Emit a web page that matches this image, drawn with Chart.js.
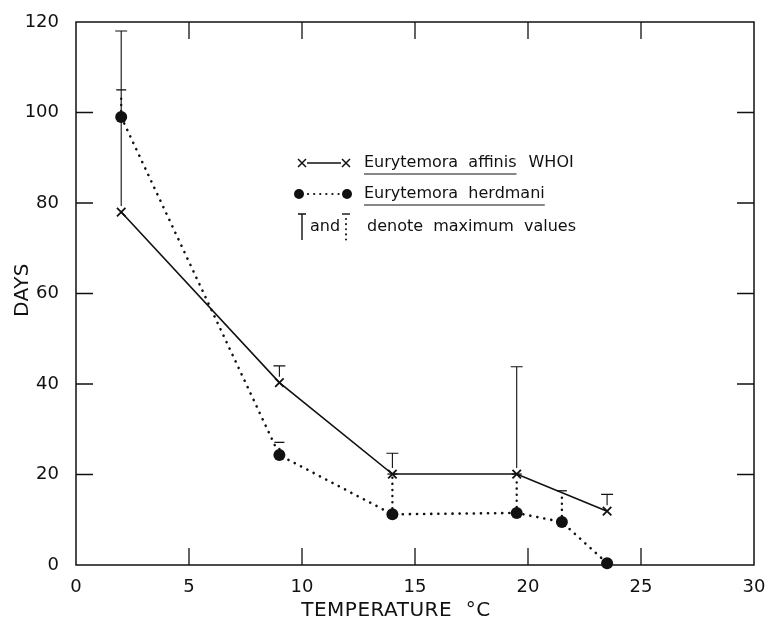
<!DOCTYPE html>
<html>
<head>
<meta charset="utf-8">
<title>Development time vs temperature</title>
<script src="https://cdn.jsdelivr.net/npm/chart.js@4/dist/chart.umd.min.js"></script>
<style>
    html, body { margin: 0; padding: 0; background: #fff; }
    #wrap { width: 769px; height: 620px; position: relative; }
</style>
</head>
<body>
<div id="wrap"><canvas id="chart" width="769" height="620"></canvas></div>
<script>
// Eurytemora affinis WHOI (x marks, solid line)
const affinisTemps = [2, 9, 14, 19.5, 23.5];
const affinisDays = [78, 40.3, 20.1, 20.1, 11.9];
const affinisMax = [118, 44, 24.7, 43.8, 15.6];

// Eurytemora herdmani (dots, dotted line)
const herdTemps = [2, 9, 14, 19.5, 21.5, 23.5];
const herdDays = [99, 24.3, 11.2, 11.5, 9.5, 0.4];
const herdMax = [105, 27.1, 20.1, 20.1, 16.4, null];

// Axis ticks
const xTicks = [0, 5, 10, 15, 20, 25, 30];
const yTicks = [0, 20, 40, 60, 80, 100, 120];

const FONT = '"DejaVu Sans", sans-serif';
const INK = '#111';

function toPoints(xs, ys) {
    return xs.map((x, i) => ({ x: x, y: ys[i] }));
}

// Draw an "x" mark
function drawCross(ctx, x, y, r) {
    ctx.beginPath();
    ctx.moveTo(x - r, y - r); ctx.lineTo(x + r, y + r);
    ctx.moveTo(x + r, y - r); ctx.lineTo(x - r, y + r);
    ctx.stroke();
}

function drawDot(ctx, x, y, r) {
    ctx.beginPath();
    ctx.arc(x, y, r, 0, Math.PI * 2);
    ctx.fill();
}

// Frame with inward ticks on all four sides
const framePlugin = {
    id: 'frame',
    beforeDatasetsDraw(chart) {
        const { ctx, chartArea: a, scales } = chart;
        const len = 17;
        ctx.save();
        ctx.strokeStyle = INK;
        ctx.lineWidth = 1.5;
        ctx.strokeRect(a.left, a.top, a.right - a.left, a.bottom - a.top);
        ctx.lineWidth = 1.3;
        ctx.beginPath();
        xTicks.slice(1, -1).forEach(v => {
            const px = scales.x.getPixelForValue(v);
            ctx.moveTo(px, a.bottom); ctx.lineTo(px, a.bottom - len);
            ctx.moveTo(px, a.top); ctx.lineTo(px, a.top + len);
        });
        yTicks.slice(1, -1).forEach(v => {
            const py = scales.y.getPixelForValue(v);
            ctx.moveTo(a.left, py); ctx.lineTo(a.left + len, py);
            ctx.moveTo(a.right, py); ctx.lineTo(a.right - len, py);
        });
        ctx.stroke();

        // axis titles
        ctx.fillStyle = INK;
        ctx.font = '20px ' + FONT;
        ctx.letterSpacing = '0.5px';
        ctx.textAlign = 'center';
        ctx.textBaseline = 'middle';
        ctx.fillText('TEMPERATURE  \u00B0C', 396, 611);
        ctx.translate(23, 290);
        ctx.rotate(-Math.PI / 2);
        ctx.fillText('DAYS', 0, 0);
        ctx.restore();
    }
};

// Maximum-value bars
const maxBarsPlugin = {
    id: 'maxBars',
    afterDatasetsDraw(chart) {
        const { ctx, scales } = chart;
        const cap = 6;
        ctx.save();
        ctx.strokeStyle = INK;
        // solid bars for E. affinis
        ctx.lineWidth = 1.1;
        affinisTemps.forEach((t, i) => {
            const px = scales.x.getPixelForValue(t);
            const y0 = scales.y.getPixelForValue(affinisDays[i]) - 6;
            const y1 = scales.y.getPixelForValue(affinisMax[i]);
            ctx.beginPath();
            ctx.moveTo(px, y0); ctx.lineTo(px, y1);
            ctx.moveTo(px - cap, y1); ctx.lineTo(px + cap, y1);
            ctx.stroke();
        });
        // dotted bars for E. herdmani
        herdTemps.forEach((t, i) => {
            if (herdMax[i] == null) return;
            const px = scales.x.getPixelForValue(t);
            const y0 = scales.y.getPixelForValue(herdDays[i]) - 6;
            const y1 = scales.y.getPixelForValue(herdMax[i]);
            ctx.lineWidth = 2.4;
            ctx.lineCap = 'round';
            ctx.setLineDash([0.1, 6]);
            ctx.beginPath();
            ctx.moveTo(px, y0); ctx.lineTo(px, y1 + 3);
            ctx.stroke();
            ctx.setLineDash([]);
            ctx.lineCap = 'butt';
            ctx.lineWidth = 1.3;
            ctx.beginPath();
            ctx.moveTo(px - 5, y1); ctx.lineTo(px + 5, y1);
            ctx.stroke();
        });
        ctx.restore();
    }
};

// Hand-drawn style legend inside the plot
const legendPlugin = {
    id: 'keyBox',
    afterDraw(chart) {
        const ctx = chart.ctx;
        const x1 = 302, x2 = 346, tx = 364;
        ctx.save();
        ctx.strokeStyle = INK;
        ctx.fillStyle = INK;
        ctx.font = '16px ' + FONT;
        ctx.textBaseline = 'middle';

        // row 1
        let y = 163;
        ctx.lineWidth = 1.5;
        drawCross(ctx, x1, y, 4);
        drawCross(ctx, x2, y, 4);
        ctx.beginPath(); ctx.moveTo(x1 + 5, y); ctx.lineTo(x2 - 5, y); ctx.stroke();
        const t1 = 'Eurytemora  affinis';
        ctx.fillText(t1, tx, y);
        const w1 = ctx.measureText(t1).width;
        ctx.fillText('WHOI', tx + w1 + 12, y);
        ctx.lineWidth = 1.2;
        ctx.beginPath(); ctx.moveTo(tx, y + 11); ctx.lineTo(tx + w1, y + 11); ctx.stroke();

        // row 2
        y = 194;
        drawDot(ctx, x1 - 3, y, 5);
        drawDot(ctx, x2 + 1, y, 5);
        ctx.lineWidth = 2.2;
        ctx.lineCap = 'round';
        ctx.setLineDash([0.1, 6]);
        ctx.beginPath(); ctx.moveTo(x1 + 6, y); ctx.lineTo(x2 - 6, y); ctx.stroke();
        ctx.setLineDash([]);
        ctx.lineCap = 'butt';
        const t2 = 'Eurytemora  herdmani';
        ctx.fillText(t2, tx, y);
        const w2 = ctx.measureText(t2).width;
        ctx.lineWidth = 1.2;
        ctx.beginPath(); ctx.moveTo(tx, y + 11); ctx.lineTo(tx + w2, y + 11); ctx.stroke();

        // row 3
        y = 227;
        ctx.lineWidth = 1.4;
        ctx.beginPath();
        ctx.moveTo(x1, 214); ctx.lineTo(x1, 240);
        ctx.moveTo(x1 - 4, 214); ctx.lineTo(x1 + 4, 214);
        ctx.stroke();
        ctx.fillText('and', 310, y);
        ctx.beginPath(); ctx.moveTo(x2 - 4, 214); ctx.lineTo(x2 + 4, 214); ctx.stroke();
        ctx.lineWidth = 2;
        ctx.lineCap = 'round';
        ctx.setLineDash([0.1, 5]);
        ctx.beginPath(); ctx.moveTo(x2, 219); ctx.lineTo(x2, 240); ctx.stroke();
        ctx.setLineDash([]);
        ctx.fillText('denote  maximum  values', 367, y);
        ctx.restore();
    }
};

new Chart(document.getElementById('chart'), {
    type: 'scatter',
    data: {
        datasets: [
            {
                label: 'Eurytemora affinis WHOI',
                data: toPoints(affinisTemps, affinisDays),
                showLine: true,
                borderColor: INK,
                borderWidth: 1.6,
                pointStyle: 'crossRot',
                pointRadius: 6,
                pointBorderWidth: 1.8,
                pointBorderColor: INK,
                pointBackgroundColor: INK
            },
            {
                label: 'Eurytemora herdmani',
                data: toPoints(herdTemps, herdDays),
                showLine: true,
                borderColor: INK,
                borderWidth: 2.6,
                borderDash: [0.1, 7],
                borderCapStyle: 'round',
                pointStyle: 'circle',
                pointRadius: 6,
                pointBorderWidth: 0,
                pointBackgroundColor: INK
            }
        ]
    },
    options: {
        responsive: false,
        animation: false,
        clip: false,
        layout: { padding: { top: 22, right: 15, left: 0, bottom: 0 } },
        plugins: {
            legend: { display: false },
            tooltip: { enabled: false }
        },
        scales: {
            x: {
                type: 'linear',
                min: 0,
                max: 30,
                afterFit: function (scale) {
                    scale.height = 55;
                    scale.paddingLeft = 0;
                    scale.paddingRight = 0;
                },
                afterBuildTicks: function (scale) {
                    scale.ticks = xTicks.map(v => ({ value: v }));
                },
                grid: { display: false, drawTicks: false },
                border: { display: false },
                ticks: {
                    padding: 12,
                    color: INK,
                    font: { family: FONT, size: 18 },
                    maxRotation: 0
                }
            },
            y: {
                type: 'linear',
                min: 0,
                max: 120,
                afterFit: function (scale) {
                    scale.width = 76;
                    scale.paddingTop = 0;
                    scale.paddingBottom = 0;
                },
                afterBuildTicks: function (scale) {
                    scale.ticks = yTicks.map(v => ({ value: v }));
                },
                grid: { display: false, drawTicks: false },
                border: { display: false },
                ticks: {
                    padding: 17,
                    color: INK,
                    font: { family: FONT, size: 18 }
                }
            }
        }
    },
    plugins: [framePlugin, maxBarsPlugin, legendPlugin]
});
</script>
</body>
</html>
